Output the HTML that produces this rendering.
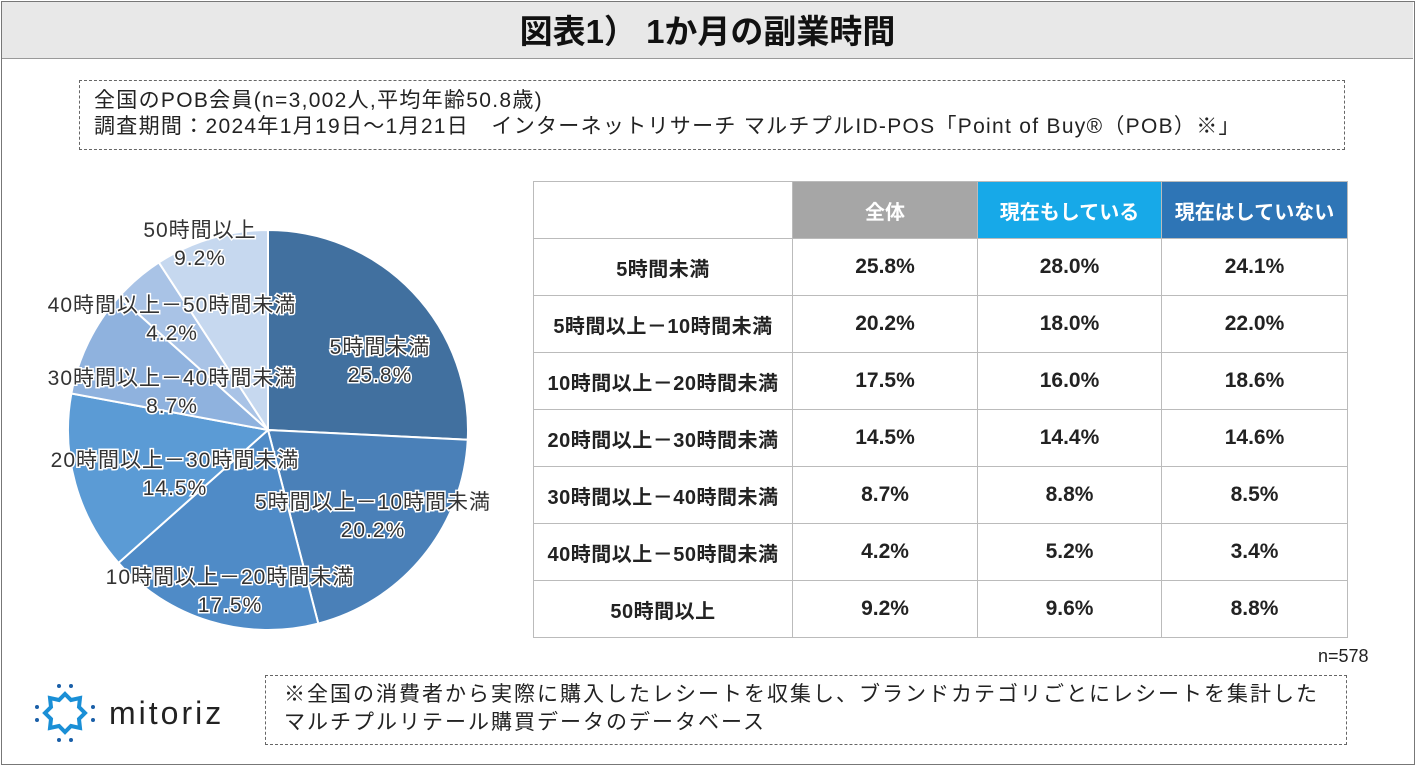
<!DOCTYPE html>
<html><head><meta charset="utf-8"><style>
body{margin:0;width:1417px;height:767px;background:#fff;font-family:"Liberation Sans","Noto Sans CJK JP",sans-serif;position:relative;overflow:hidden;color:#222}
.abs{position:absolute}
#frame{left:1px;top:1px;width:1412px;height:762px;border:1px solid #777}
#title{left:2px;top:2px;width:1411px;height:56px;background:#e8e8e8;border-bottom:1px solid #999;text-align:center;font-size:33px;font-weight:bold;line-height:60px;color:#111}
#info{left:79px;top:80px;width:1266px;height:70px;border:1px dashed #666;font-size:21px;letter-spacing:1.3px;line-height:26px;padding:7px 0 0 14px;box-sizing:border-box;white-space:nowrap}
table{position:absolute;left:533px;top:181px;border-collapse:collapse;font-weight:bold}
td{border:1px solid #bbb;height:56px;text-align:center;font-size:21px;padding:0}
.h td{font-size:20px;color:#fff}
.lab{font-size:20px!important;letter-spacing:0.5px}
#note{left:265px;top:675px;width:1082px;height:70px;border:1px dashed #666;font-size:21px;letter-spacing:2px;line-height:28px;padding:5px 0 0 18px;box-sizing:border-box;white-space:nowrap}
#n{left:1318px;top:646px;font-size:18px}
#pie text{font-family:"Liberation Sans","Noto Sans CJK JP",sans-serif;font-size:21px;letter-spacing:1px;fill:#333;text-anchor:middle;paint-order:stroke;stroke:#fff;stroke-width:3px}
</style></head><body>
<div id="frame" class="abs"></div>
<div id="title" class="abs">図表1） 1か月の副業時間</div>
<div id="info" class="abs">全国のPOB会員(n=3,002人,平均年齢50.8歳)<br>調査期間：2024年1月19日～1月21日　インターネットリサーチ マルチプルID-POS「Point of Buy®（POB）※」</div>
<svg id="pie" class="abs" style="left:0;top:0" width="520" height="660"></svg>
<table>
<tr class="h"><td style="width:258px;background:#fff"></td><td style="width:184px;background:#a6a6a6">全体</td><td style="width:183px;background:#17a9e8">現在もしている</td><td style="width:185px;background:#2e75b6">現在はしていない</td></tr>
<tr><td class="lab">5時間未満</td><td>25.8%</td><td>28.0%</td><td>24.1%</td></tr>
<tr><td class="lab">5時間以上－10時間未満</td><td>20.2%</td><td>18.0%</td><td>22.0%</td></tr>
<tr><td class="lab">10時間以上－20時間未満</td><td>17.5%</td><td>16.0%</td><td>18.6%</td></tr>
<tr><td class="lab">20時間以上－30時間未満</td><td>14.5%</td><td>14.4%</td><td>14.6%</td></tr>
<tr><td class="lab">30時間以上－40時間未満</td><td>8.7%</td><td>8.8%</td><td>8.5%</td></tr>
<tr><td class="lab">40時間以上－50時間未満</td><td>4.2%</td><td>5.2%</td><td>3.4%</td></tr>
<tr><td class="lab">50時間以上</td><td>9.2%</td><td>9.6%</td><td>8.8%</td></tr>
</table>
<div id="n" class="abs">n=578</div>
<div id="note" class="abs">※全国の消費者から実際に購入したレシートを収集し、ブランドカテゴリごとにレシートを集計した<br>マルチプルリテール購買データのデータベース</div>
<div class="abs" style="left:33px;top:680px">
<svg width="230" height="62"><polygon points="32,14 38,20 47,18 46,27 52,33 46,39 47,48 38,46 32,52 26,46 17,48 18,39 12,33 18,27 17,18 26,20" fill="none" stroke="#1a8fd6" stroke-width="4"/>
<g fill="#1a5fa8"><circle cx="26" cy="6" r="2"/><circle cx="38" cy="6" r="2"/><circle cx="4" cy="27" r="2"/><circle cx="60" cy="27" r="2"/><circle cx="4" cy="40" r="2"/><circle cx="60" cy="40" r="2"/><circle cx="26" cy="60" r="2"/><circle cx="38" cy="60" r="2"/></g>
<text x="76" y="44" text-anchor="start" style="font-family:'Liberation Sans',sans-serif;font-size:32px;fill:#222;letter-spacing:3px">mitoriz</text></svg></div>
<script>
const categories=["5時間未満","5時間以上－10時間未満","10時間以上－20時間未満","20時間以上－30時間未満","30時間以上－40時間未満","40時間以上－50時間未満","50時間以上"];
const values=[25.8,20.2,17.5,14.5,8.7,4.2,9.2];
const colors=["#41709f","#4a80b8","#4f8bc7","#5b9bd5","#8fb2de","#a9c3e6","#c6d8ef"];
const svg=document.getElementById('pie');const NS="http://www.w3.org/2000/svg";
const cx=268,cy=430,r=200;const total=values.reduce((a,b)=>a+b,0);
const labelPos=[[380,354],[373,509],[230,584],[175,467],[172,385],[172,312],[200,237]];
let a0=0;
values.forEach((v,i)=>{const a1=a0+v/total*2*Math.PI;
const x0=cx+r*Math.sin(a0),y0=cy-r*Math.cos(a0),x1=cx+r*Math.sin(a1),y1=cy-r*Math.cos(a1);
const p=document.createElementNS(NS,'path');
p.setAttribute('d',`M${cx},${cy}L${x0},${y0}A${r},${r} 0 ${a1-a0>Math.PI?1:0} 1 ${x1},${y1}Z`);
p.setAttribute('fill',colors[i]);p.setAttribute('stroke','#fff');p.setAttribute('stroke-width','2');


svg.appendChild(p);a0=a1;});
values.forEach((v,i)=>{const t=document.createElementNS(NS,'text');
t.setAttribute('x',labelPos[i][0]);t.setAttribute('y',labelPos[i][1]);
t.innerHTML=`<tspan x="${labelPos[i][0]}">${categories[i]}</tspan><tspan x="${labelPos[i][0]}" dy="28">${v.toFixed(1)}%</tspan>`;


svg.appendChild(t);});
</script>
</body></html>
